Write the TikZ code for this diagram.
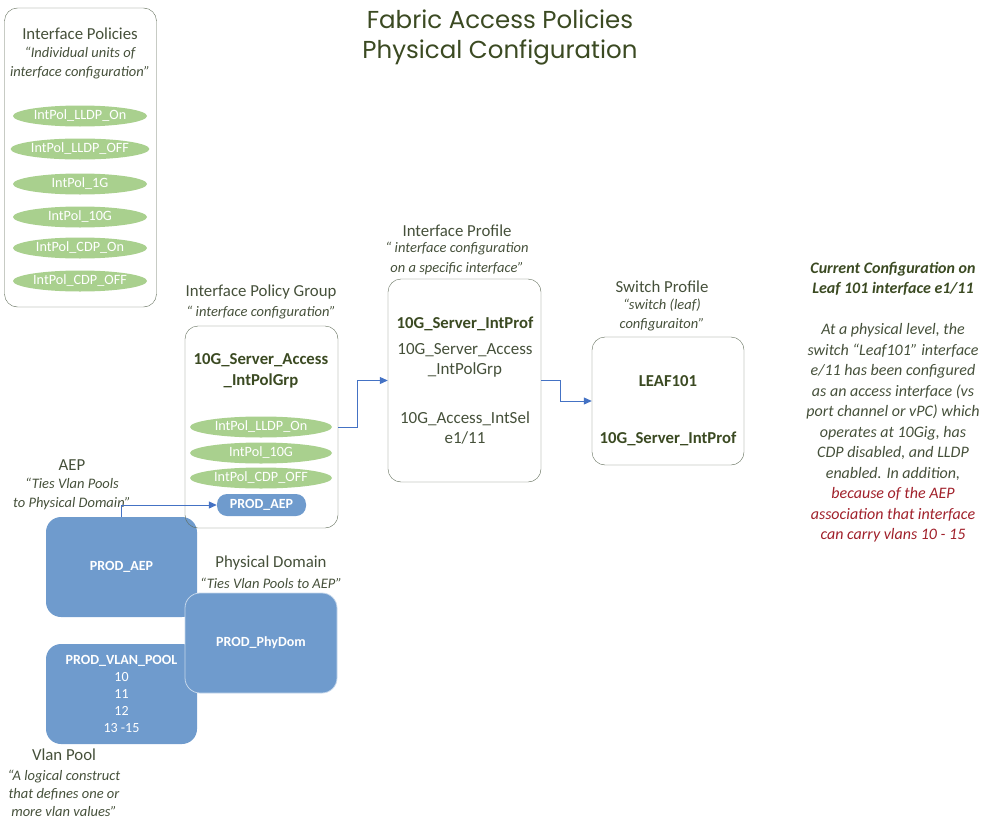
\documentclass[tikz,border=0pt]{standalone}
\usepackage{fontspec}
\setmainfont{Carlito}
\newfontfamily\titlefont{Poppins}
\usetikzlibrary{arrows.meta, positioning, shapes.geometric}
\definecolor{acigreen}{HTML}{3B4A22}
\definecolor{acitext}{HTML}{45503A}
\definecolor{acipol}{HTML}{A9D08E}
\definecolor{aciblue}{HTML}{6F9BCD}
\definecolor{aciedge}{HTML}{5F6B58}
\definecolor{acired}{HTML}{A0202A}
\definecolor{acilink}{HTML}{4472C4}

\begin{document}
\begin{tikzpicture}[x=1pt, y=-1pt,
    frame/.style={draw=aciedge, rounded corners=13pt, minimum width=152pt, minimum height=#1, inner sep=0pt},
    bluebox/.style={fill=aciblue, rounded corners=15pt, minimum width=151pt, minimum height=100pt, inner sep=0pt},
    pol/.style={ellipse, fill=acipol, text=white, minimum width=#1, minimum height=21pt, inner sep=0pt,
                font=\fontsize{14.2}{16}\selectfont},
    pol/.default=134pt,
    head/.style={text=acitext, font=\fontsize{16.8}{19}\selectfont},
    note/.style={text=acitext, align=center, font=\fontsize{14.5}{19.5}\selectfont\itshape},
    boxname/.style={text=acigreen, align=center, font=\fontsize{16.7}{21}\selectfont\bfseries},
    boxtext/.style={text=acitext, align=center, font=\fontsize{17}{20}\selectfont},
    blabel/.style={text=white, align=center, font=\fontsize{14}{17}\selectfont},
    link/.style={draw=acilink, line width=1pt, -{Triangle[length=8pt, width=7pt]}},
]
    \useasboundingbox (0,0) rectangle (999,827);

    % title
    \node[text=acigreen, align=center, font=\titlefont\fontsize{24.5}{30}\selectfont] (title) at (500,37)
        {Fabric Access Policies\\Physical Configuration};

    % interface policies
    \node[frame=299pt] (ipbox) at (80.5,157.5) {};
    \node[head] (iphead) at (80,34) {Interface Policies};
    \node[note] (ipnote) at (80,63) {“Individual units of\\interface configuration”};
    \node[pol] (pllon) at (80,116) {IntPol\_LLDP\_On};
    \node[pol] (plloff) at (80,149) {IntPol\_LLDP\_OFF};
    \node[pol] (p1g) at (80,184) {IntPol\_1G};
    \node[pol] (p10g) at (80,217) {IntPol\_10G};
    \node[pol] (pcdpon) at (80,248) {IntPol\_CDP\_On};
    \node[pol] (pcdpoff) at (80,281) {IntPol\_CDP\_OFF};

    % AEP, vlan pool, physical domain
    \node[bluebox] (aepbox) at (121.5,567) {};
    \node[blabel, font=\fontsize{14}{16}\selectfont\bfseries] (aepname) at (121.5,567) {PROD\_AEP};
    \node[bluebox] (vlanbox) at (121.5,694) {};
    \node[blabel] (vlanname) at (121.5,694) {\textbf{PROD\_VLAN\_POOL}\\10\\11\\12\\13 -15};
    \node[bluebox, draw=aciblue!40!white, line width=0.8pt, minimum width=152pt] (pdbox) at (261,643) {};
    \node[blabel, font=\fontsize{14}{16}\selectfont\bfseries] (pdname) at (261,643) {PROD\_PhyDom};

    \node[head] (aephead) at (72,465) {AEP};
    \node[note] (aepnote) at (72,494) {“Ties Vlan Pools\\to Physical Domain”};
    \node[head] (pdhead) at (271,563) {Physical Domain};
    \node[note] (pdnote) at (271,583) {“Ties Vlan Pools to AEP”};
    \node[head] (vlanhead) at (64,755) {Vlan Pool};
    \node[note, font=\fontsize{14.5}{18}\selectfont\itshape] (vlannote) at (64,793)
        {“A logical construct\\that defines one or\\more vlan values”};

    % interface policy group
    \node[frame=202pt, minimum width=153pt] (ipgbox) at (261.5,427) {};
    \node[head] (ipghead) at (261,292) {Interface Policy Group};
    \node[note] (ipgnote) at (261,313) {“ interface configuration”};
    \node[boxname] (ipgname) at (261,371) {10G\_Server\_Access\\\_IntPolGrp};
    \node[pol=142pt] (gllon) at (261,427) {IntPol\_LLDP\_On};
    \node[pol=142pt] (g10g) at (261,453) {IntPol\_10G};
    \node[pol=142pt] (gcdpoff) at (261,478) {IntPol\_CDP\_OFF};
    \node[fill=aciblue, rounded corners=10pt, minimum width=89pt, minimum height=22pt, inner sep=0pt,
          text=white, font=\fontsize{14}{16}\selectfont\bfseries] (aeppill) at (261.5,505) {PROD\_AEP};

    % interface profile
    \node[frame=203pt, minimum width=153pt] (iprofbox) at (464.5,380.5) {};
    \node[head] (iprofhead) at (457,231) {Interface Profile};
    \node[note] (iprofnote) at (457,258.5) {“ interface configuration\\on a specific interface”};
    \node[boxname] (iprofname) at (465,324) {10G\_Server\_IntProf};
    \node[boxtext] (iprofgrp) at (465,360) {10G\_Server\_Access\\\_IntPolGrp};
    \node[boxtext] (iprofsel) at (465,428) {10G\_Access\_IntSel\\e1/11};

    % switch profile
    \node[frame=128pt] (swbox) at (668,401) {};
    \node[head] (swhead) at (662,287) {Switch Profile};
    \node[note] (swnote) at (662,315) {“switch (leaf)\\configuraiton”};
    \node[boxname] (swleaf) at (668,381) {LEAF101};
    \node[boxname] (swprof) at (668,439) {10G\_Server\_IntProf};

    % current configuration
    \node[text=acitext, align=center, font=\fontsize{16}{20.5}\selectfont\itshape] (current) at (893,402)
        {\textbf{\textcolor{acigreen}{Current Configuration on}}\\
         \textbf{\textcolor{acigreen}{Leaf 101 interface e1/11}}\\[20.5pt]
         At a physical level, the\\
         switch “Leaf101” interface\\
         e/11 has been configured\\
         as an access interface (vs\\
         port channel or vPC) which\\
         operates at 10Gig, has\\
         CDP disabled, and LLDP\\
         enabled.  In addition,\\
         \textcolor{acired}{because of the AEP}\\
         \textcolor{acired}{association that interface}\\
         \textcolor{acired}{can carry vlans 10 - 15}};

    % connectors
    \draw[link] (aepbox.north) |- (aeppill.west);
    \draw[link] (ipgbox.east |- gllon) -- ++(19,0) |- (iprofbox.west);
    \draw[link] (iprofbox.east) -- ++(19,0) |- (swbox.west);
\end{tikzpicture}
\end{document}
